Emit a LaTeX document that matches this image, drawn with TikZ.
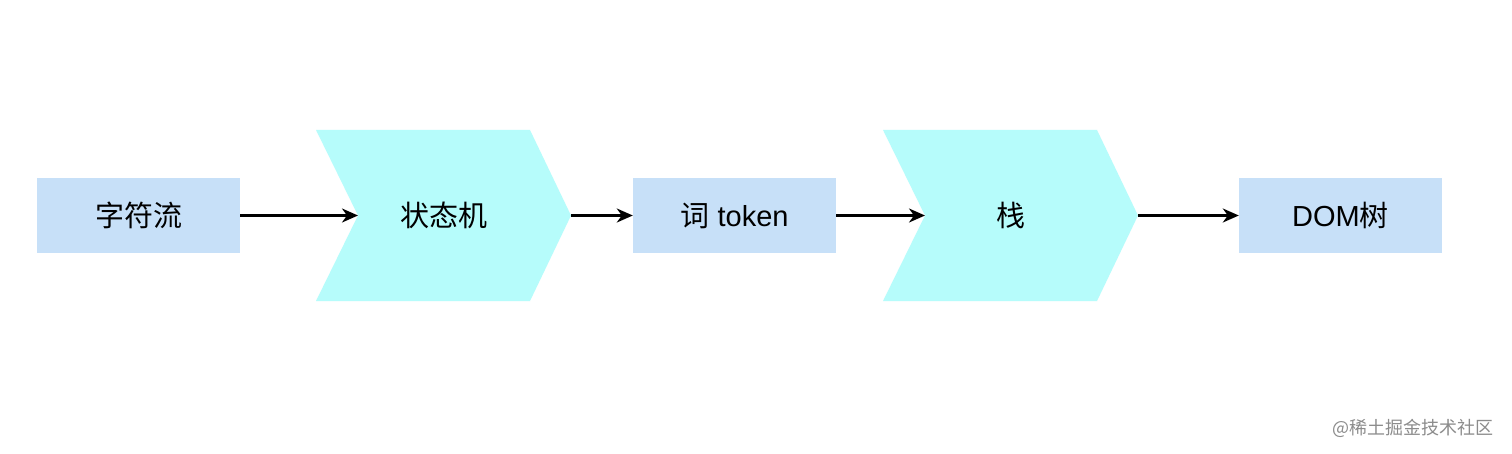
\documentclass[tikz,border=0pt]{standalone}
\usepackage{fontspec}
\setmainfont{Liberation Sans}
\newfontfamily\cjk{Noto Sans CJK SC}
\usetikzlibrary{arrows.meta}
\definecolor{boxblue}{HTML}{C7E0F8}
\definecolor{chevcyan}{HTML}{B6FCFB}
\begin{document}
\begin{tikzpicture}[x=1pt,y=-1pt,
  rectbox/.style={fill=boxblue,draw=none,minimum width=203pt,minimum height=75pt,inner sep=0pt,font=\fontsize{29}{32}\selectfont},
  chevtext/.style={inner sep=0pt,font=\fontsize{29}{32}\selectfont},
  flow/.style={-{Stealth[length=16pt,width=14pt,inset=5pt]},line width=2.2pt,black}]
\useasboundingbox (0,0) rectangle (1512,454);
\fill[white] (0,0) rectangle (1512,454);
% chevrons
\fill[chevcyan] (316,130) -- (530,130) -- (571,215.5) -- (530,301) -- (316,301) -- (358,215.5) -- cycle;
\fill[chevcyan] (883,130) -- (1097,130) -- (1138,215.5) -- (1097,301) -- (883,301) -- (925,215.5) -- cycle;
\coordinate (c1in) at (358,215.5);
\coordinate (c1out) at (571,215.5);
\coordinate (c2in) at (925,215.5);
\coordinate (c2out) at (1138,215.5);
\node[chevtext] (sm) at (444,215.5) {\cjk 状态机};
\node[chevtext] (st) at (1011,215.5) {\cjk 栈};
% boxes
\node[rectbox] (a) at (138.5,215.5) {\cjk 字符流};
\node[rectbox] (b) at (734.5,215.5) {{\cjk 词} token};
\node[rectbox] (c) at (1340.5,215.5) {DOM{\cjk 树}};
% arrows
\draw[flow] (a.east) -- (c1in);
\draw[flow] (c1out) -- (b.west);
\draw[flow] (b.east) -- (c2in);
\draw[flow] (c2out) -- (c.west);
% watermark
\node[anchor=east,text=black!45,inner sep=0pt,font=\cjk\fontsize{18}{20}\selectfont] (wm) at (1494,428) {@稀土掘金技术社区};
\end{tikzpicture}
\end{document}
